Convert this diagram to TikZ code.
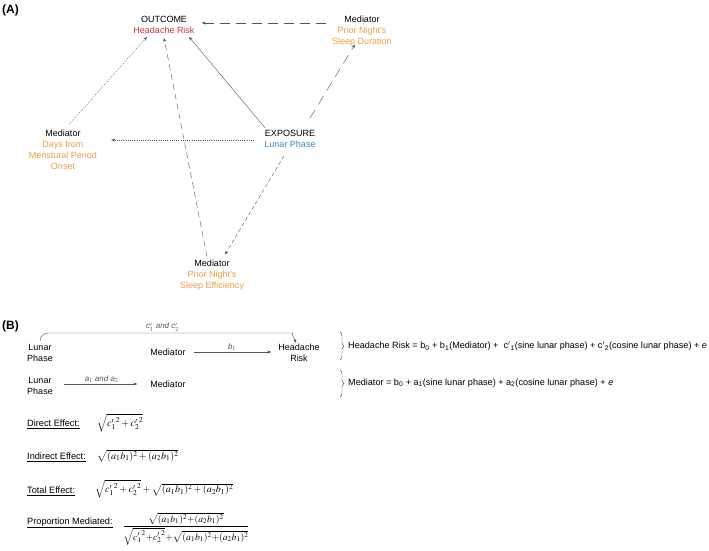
\documentclass[tikz,border=0pt]{standalone}
\usepackage{amsmath,amssymb}
\usepackage{mathptmx}
\usepackage{xcolor}
\usepackage{fontspec}
\setmainfont{Liberation Sans}
\usetikzlibrary{arrows.meta,calc,decorations.pathreplacing}

\definecolor{riskred}{HTML}{D0333A}
\definecolor{medorange}{HTML}{EE9E45}
\definecolor{lunarblue}{HTML}{3D85C6}
\definecolor{linegray}{HTML}{555555}

\tikzset{
  lab/.style={font=\fontsize{9}{11}\selectfont, align=center, inner sep=3pt},
  pane/.style={font=\fontsize{12}{14}\selectfont\bfseries, anchor=west, inner sep=0pt},
  arr/.style={linegray, -{Stealth[length=4pt,width=3pt]}},
  longdash/.style={dash pattern=on 10pt off 6pt},
  middash/.style={dash pattern=on 6pt off 4pt},
  shortdash/.style={dash pattern=on 4pt off 2.5pt},
  dots/.style={dash pattern=on 1pt off 1.2pt},
  small/.style={font=\fontsize{8}{9}\selectfont\itshape, inner sep=1.5pt},
  eqn/.style={font=\fontsize{9.1}{11}\selectfont, anchor=west, inner sep=0pt},
  term/.style={font=\fontsize{9.2}{11}\selectfont, anchor=west, inner sep=0pt},
  formula/.style={font=\fontsize{10}{12}\selectfont, anchor=west, inner sep=0pt},
}

\begin{document}
\begin{tikzpicture}[x=1pt, y=-1pt]
  \useasboundingbox (0,0) rectangle (709,551);

  % panel A
  \node[pane] (pA) at (2,10) {(A)};
  \node[lab] (out) at (164,25) {OUTCOME\\\textcolor{riskred}{Headache Risk}};
  \node[lab] (dur) at (362,31) {Mediator\\\textcolor{medorange}{Prior Night's}\\\textcolor{medorange}{Sleep Duration}};
  \node[lab] (men) at (63,149.5) {Mediator\\\textcolor{medorange}{Days from}\\\textcolor{medorange}{Menstural Period}\\\textcolor{medorange}{Onset}};
  \node[lab] (exp) at (290,139) {EXPOSURE\\\textcolor{lunarblue}{Lunar Phase}};
  \node[lab] (eff) at (212,275) {Mediator\\\textcolor{medorange}{Prior Night's}\\\textcolor{medorange}{Sleep Efficiency}};

  \draw[arr, longdash] ($(dur.west)+(-3,-8)$) -- ($(out.east)+(4,-2)$);
  \draw[arr] ($(exp.north west)+(4,1)$) -- ($(out.south)+(25,0)$);
  \draw[arr, longdash] ($(exp.north)+(20,-9)$) -- ($(dur.south)+(-7,-5)$);
  \draw[arr, dots] ($(men.north)+(6,-2)$) -- ($(out.south)+(-17,0)$);
  \draw[arr, dots, shorten <=7pt, shorten >=11pt] ($(exp.west)+(0,1)$) -- ($(exp.west -| men.east)+(0,1)$);
  \draw[arr, middash] ($(eff.north)+(-5,0)$) -- ($(out.south)+(0,1)$);
  \draw[arr, shortdash] ($(exp.south)+(-6,5)$) -- ($(eff.north)+(13,-2)$);

  % panel B
  \node[pane] (pB) at (2,326) {(B)};
  \node[lab] (lp1) at (40,353) {Lunar\\Phase};
  \node[lab] (med1) at (168,352) {Mediator};
  \node[lab] (hr) at (299,353) {Headache\\Risk};
  \draw[arr, rounded corners=8pt] (lp1.north) |- node[pos=0.75, above, small] {c$'_1$ and c$'_2$}
    ($(hr.north)+(-14,-8)$) to[out=0,in=110] ($(hr.north)+(-3,2)$);
  \draw[arr, shorten <=5pt, shorten >=4pt] (med1.east) -- node[above, small] {b$_1$} (hr.west |- med1.east);

  \node[lab] (lp2) at (40,386) {Lunar\\Phase};
  \node[lab] (med2) at (168,384) {Mediator};
  \draw[arr, shorten <=8pt, shorten >=10pt] (lp2.east |- med2.west) -- node[above, small] {a$_1$ and a$_2$} (med2.west);

  \node[eqn] (eq1) at (348,346) {Headache Risk = b\textsubscript{0} + b\textsubscript{1}(Mediator) +\ \ c$'$\textsubscript{1}(sine lunar phase) + c$'$\textsubscript{2}(cosine lunar phase) + \textit{e}};
  \node[eqn] (eq2) at (348,383) {Mediator = b\textsubscript{0} + a\textsubscript{1}(sine lunar phase) + a\textsubscript{2}(cosine lunar phase) + \textit{e}};
  \draw[decorate, decoration={brace, amplitude=4pt}, linegray] ($(eq1.west)+(-8,-14)$) -- ($(eq1.west)+(-8,14)$);
  \draw[decorate, decoration={brace, amplitude=4pt}, linegray] ($(eq2.west)+(-8,-13)$) -- ($(eq2.west)+(-8,14)$);

  % effects
  \node[term] (tD) at (27,424) {\underline{Direct Effect:}};
  \node[term] (tI) at (27,457) {\underline{Indirect Effect:}};
  \node[term] (tT) at (27,491) {\underline{Total Effect:}};
  \node[term] (tP) at (27,523) {\underline{Proportion Mediated:}};
  \node[formula] (fD) at (97,423) {$\sqrt{{c'_1}^2+{c'_2}^2}$};
  \node[formula] (fI) at (97,456) {$\sqrt{(a_1b_1)^2+(a_2b_1)^2}$};
  \node[formula] (fT) at (95,489) {$\sqrt{{c'_1}^2+{c'_2}^2}+\sqrt{(a_1b_1)^2+(a_2b_1)^2}$};
  \node[formula, font=\fontsize{9.6}{12}\selectfont, anchor=center] (fP) at (186,529)
    {$\dfrac{\sqrt{(a_1b_1)^2{+}(a_2b_1)^2}\rule[-2pt]{0pt}{2pt}}{\sqrt{{c'_1}^2{+}{c'_2}^2}{+}\sqrt{(a_1b_1)^2{+}(a_2b_1)^2}}$};
\end{tikzpicture}
\end{document}
